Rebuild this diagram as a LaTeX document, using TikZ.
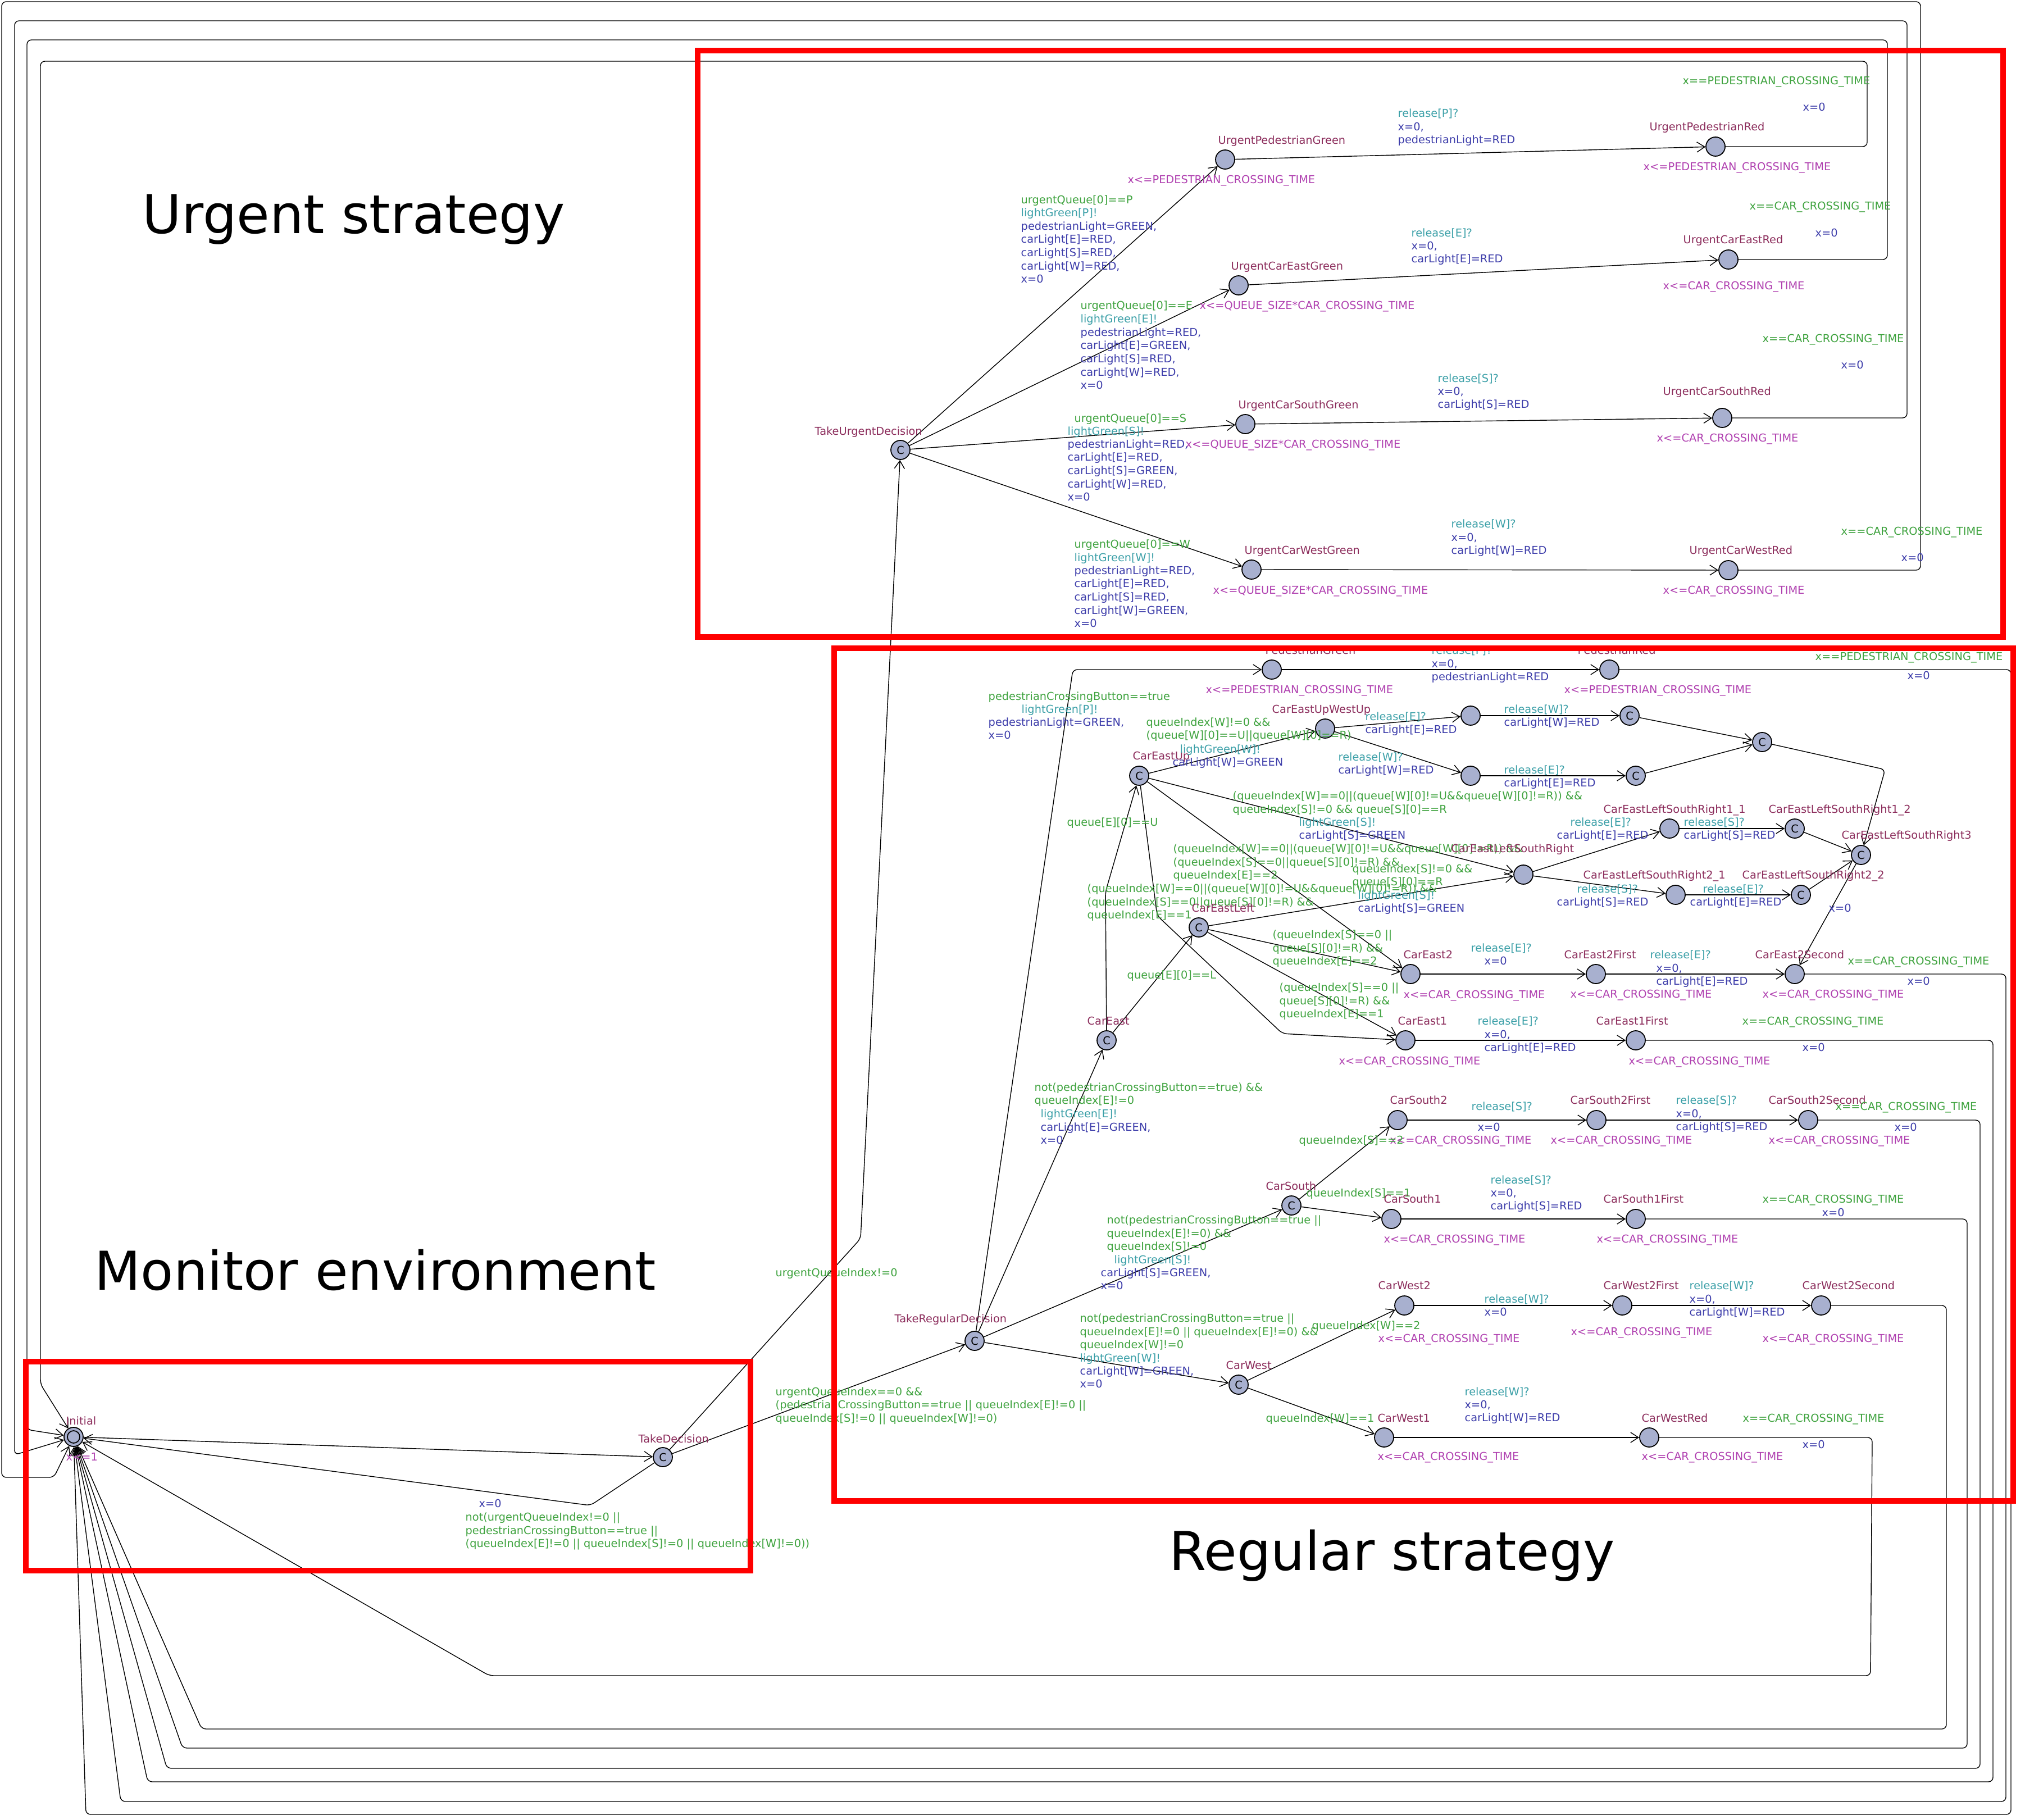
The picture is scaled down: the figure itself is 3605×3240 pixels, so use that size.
\documentclass[tikz,border=0pt]{standalone}
\usepackage{fontspec}
\setmainfont{DejaVu Sans}
\usetikzlibrary{arrows.meta}
\definecolor{locfill}{HTML}{A8B0CF}
\definecolor{namecol}{HTML}{8C2D5C}
\definecolor{grdcol}{HTML}{3FA33F}
\definecolor{syncol}{HTML}{3CA0A8}
\definecolor{updcol}{HTML}{3D3DAA}
\definecolor{invcol}{HTML}{B040B0}
\newcommand{\edgefont}{\fontsize{5.5}{6.7}\selectfont}
\newcommand{\titlefont}{\fontsize{27.1}{32}\selectfont}
\tikzset{
  loc/.style={circle, draw, line width=0.5pt, fill=locfill, minimum size=0.34cm, inner sep=0pt, font=\edgefont},
  edge/.style={draw, line width=0.4pt, -{Straight Barb[length=1.4mm,width=1.8mm]}, rounded corners=0.08cm},
  txt/.style={anchor=north west, yshift=0.08cm, inner sep=0pt, align=left, font=\edgefont},
  locname/.style={txt, text=namecol},
  guard/.style={txt, text=grdcol},
  sync/.style={txt, text=syncol},
  updt/.style={txt, text=updcol},
  invar/.style={txt, text=invcol},
  region/.style={draw=red, line width=0.1cm},
  title/.style={anchor=base west, inner sep=0pt, font=\titlefont}
}

\begin{document}
\begin{tikzpicture}[x=0.01cm, y=-0.01cm]
\path[use as bounding box, fill=white] (0,0) rectangle (3605,3240);

% monitor
\node[loc] (Initial) at (131,2558) {};
\draw[line width=0.5pt] (Initial.center) circle[radius=0.11cm];
\node[loc] (TD) at (1180,2594) {C};
\node[loc] (TUD) at (1603,801) {C};
\node[loc] (TRD) at (1735,2387) {C};

% urgent strategy
\node[loc] (UPG) at (2181,284) {};
\node[loc] (UPR) at (3054,261) {};
\node[loc] (UCEG) at (2205,508) {};
\node[loc] (UCER) at (3077,462) {};
\node[loc] (UCSG) at (2217,755) {};
\node[loc] (UCSR) at (3066,744) {};
\node[loc] (UCWG) at (2228,1014) {};
\node[loc] (UCWR) at (3077,1015) {};

% regular strategy
\node[loc] (PG) at (2264,1192) {};
\node[loc] (PR) at (2865,1192) {};
\node[loc] (CEU) at (2028,1381) {C};
\node[loc] (CEUWU) at (2359,1297) {};
\node[loc] (CEUWUa) at (2618,1274) {};
\node[loc] (CEUWUb) at (2618,1381) {};
\node[loc] (CEUWUc) at (2901,1274) {C};
\node[loc] (CEUWUd) at (2912,1381) {C};
\node[loc] (CEUWUe) at (3137,1321) {C};
\node[loc] (CELSR) at (2712,1557) {};
\node[loc] (CELSR11) at (2972,1475) {};
\node[loc] (CELSR12) at (3195,1475) {C};
\node[loc] (CELSR3) at (3313,1522) {C};
\node[loc] (CELSR21) at (2983,1593) {};
\node[loc] (CELSR22) at (3206,1593) {C};
\node[loc] (CEL) at (2134,1651) {C};
\node[loc] (CE) at (1970,1852) {C};
\node[loc] (CE2) at (2511,1734) {};
\node[loc] (CE2F) at (2841,1734) {};
\node[loc] (CE2S) at (3195,1734) {};
\node[loc] (CE1) at (2502,1852) {};
\node[loc] (CE1F) at (2912,1852) {};
\node[loc] (CS) at (2299,2146) {C};
\node[loc] (CS2) at (2488,1994) {};
\node[loc] (CS2F) at (2842,1994) {};
\node[loc] (CS2S) at (3219,1994) {};
\node[loc] (CS1) at (2477,2170) {};
\node[loc] (CS1F) at (2912,2170) {};
\node[loc] (CW) at (2205,2465) {C};
\node[loc] (CW2) at (2500,2324) {};
\node[loc] (CW2F) at (2888,2324) {};
\node[loc] (CW2S) at (3242,2324) {};
\node[loc] (CW1) at (2464,2559) {};
\node[loc] (CWR) at (2936,2559) {};

% edges: monitor
\draw[edge] (Initial) -- (TD);
\draw[edge] (TD) -- (1051,2680) -- (Initial);
\draw[edge] (TD) -- (1532,2205) -- (TUD);
\draw[edge] (TD) -- (TRD);

% edges: urgent
\draw[edge] (TUD) -- (UPG);
\draw[edge] (TUD) -- (UCEG);
\draw[edge] (TUD) -- (UCSG);
\draw[edge] (TUD) -- (UCWG);
\draw[edge] (UPG) -- (UPR);
\draw[edge] (UCEG) -- (UCER);
\draw[edge] (UCSG) -- (UCSR);
\draw[edge] (UCWG) -- (UCWR);
\draw[edge] (UPR) -- (3324,261) -- (3324,109) -- (72,109) -- (72,2464) -- (Initial);
\draw[edge] (UCER) -- (3360,462) -- (3360,71) -- (48,71) -- (48,2545) -- (Initial);
\draw[edge] (UCSR) -- (3395,744) -- (3395,37) -- (26,37) -- (26,2590) -- (Initial);
\draw[edge] (UCWR) -- (3419,1015) -- (3419,3) -- (3,3) -- (3,2630) -- (96,2630) -- (Initial);

% edges: regular
\draw[edge] (TRD) -- (1910,1192) -- (PG);
\draw[edge] (PG) -- (PR);
\draw[edge] (PR) -- (3580,1192) -- (3580,3230) -- (153,3230) -- (Initial);
\draw[edge] (TRD) -- (CE);
\draw[edge] (TRD) -- (CS);
\draw[edge] (TRD) -- (CW);
\draw[edge] (CE) -- (1968,1588) -- (CEU);
\draw[edge] (CE) -- (CEL);
\draw[edge] (CEU) -- (CEUWU);
\draw[edge] (CEU) -- (CELSR);
\draw[edge] (CEU) -- (CE2);
\draw[edge] (CEU) -- (2060,1630) -- (2283,1840) -- (CE1);
\draw[edge] (CEL) -- (CELSR);
\draw[edge] (CEL) -- (CE2);
\draw[edge] (CEL) -- (CE1);
\draw[edge] (CEUWU) -- (CEUWUa);
\draw[edge] (CEUWU) -- (CEUWUb);
\draw[edge] (CEUWUa) -- (CEUWUc);
\draw[edge] (CEUWUb) -- (CEUWUd);
\draw[edge] (CEUWUc) -- (CEUWUe);
\draw[edge] (CEUWUd) -- (CEUWUe);
\draw[edge] (CEUWUe) -- (3356,1370) -- (CELSR3);
\draw[edge] (CELSR) -- (CELSR11);
\draw[edge] (CELSR11) -- (CELSR12);
\draw[edge] (CELSR12) -- (CELSR3);
\draw[edge] (CELSR) -- (CELSR21);
\draw[edge] (CELSR21) -- (CELSR22);
\draw[edge] (CELSR22) -- (CELSR3);
\draw[edge] (CELSR3) -- (CE2S);
\draw[edge] (CE2) -- (CE2F);
\draw[edge] (CE2F) -- (CE2S);
\draw[edge] (CE2S) -- (3571,1734) -- (3571,3207) -- (215,3207) -- (Initial);
\draw[edge] (CE1) -- (CE1F);
\draw[edge] (CE1F) -- (3548,1852) -- (3548,3172) -- (263,3172) -- (Initial);
\draw[edge] (CS) -- (CS2);
\draw[edge] (CS) -- (CS1);
\draw[edge] (CS2) -- (CS2F);
\draw[edge] (CS2F) -- (CS2S);
\draw[edge] (CS2S) -- (3525,1994) -- (3525,3148) -- (297,3148) -- (Initial);
\draw[edge] (CS1) -- (CS1F);
\draw[edge] (CS1F) -- (3502,2170) -- (3502,3112) -- (325,3112) -- (Initial);
\draw[edge] (CW) -- (CW2);
\draw[edge] (CW) -- (CW1);
\draw[edge] (CW2) -- (CW2F);
\draw[edge] (CW2F) -- (CW2S);
\draw[edge] (CW2S) -- (3465,2324) -- (3465,3078) -- (359,3078) -- (Initial);
\draw[edge] (CW1) -- (CWR);
\draw[edge] (CWR) -- (3333,2559) -- (3330,2983) -- (871,2983) -- (Initial);

% labels: monitor
\node[locname] (nInit) at (117,2529) {Initial};
\node[invar] (iInit) at (117,2594) {x<=1};
\node[locname] (nTD) at (1136,2561) {TakeDecision};
\node[updt] (uTDI) at (852,2676) {x=0};
\node[guard] (gTDI) at (828,2700) {not(urgentQueueIndex!=0 ||\\pedestrianCrossingButton==true ||\\(queueIndex[E]!=0 || queueIndex[S]!=0 || queueIndex[W]!=0))};
\node[guard] (gTDU) at (1380,2265) {urgentQueueIndex!=0};
\node[guard] (gTDR) at (1380,2477) {urgentQueueIndex==0 \&\&\\(pedestrianCrossingButton==true || queueIndex[E]!=0 ||\\queueIndex[S]!=0 || queueIndex[W]!=0)};

% labels: urgent
\node[locname] (nTUD) at (1450,767) {TakeUrgentDecision};
\node[locname] (nUPG) at (2168,249) {UrgentPedestrianGreen};
\node[invar] (iUPG) at (2007,319) {x<=PEDESTRIAN\_CROSSING\_TIME};
\node[guard] (gTUP) at (1817,355) {urgentQueue[0]==P};
\node[sync] (sTUP) at (1817,378) {lightGreen[P]!};
\node[updt] (uTUP) at (1817,402) {pedestrianLight=GREEN,\\carLight[E]=RED,\\carLight[S]=RED,\\carLight[W]=RED,\\x=0};
\node[locname] (nUCEG) at (2191,473) {UrgentCarEastGreen};
\node[invar] (iUCEG) at (2135,543) {x<=QUEUE\_SIZE*CAR\_CROSSING\_TIME};
\node[guard] (gTUE) at (1923,543) {urgentQueue[0]==E};
\node[sync] (sTUE) at (1923,567) {lightGreen[E]!};
\node[updt] (uTUE) at (1923,591) {pedestrianLight=RED,\\carLight[E]=GREEN,\\carLight[S]=RED,\\carLight[W]=RED,\\x=0};
\node[locname] (nUCSG) at (2204,720) {UrgentCarSouthGreen};
\node[invar] (iUCSG) at (2110,790) {x<=QUEUE\_SIZE*CAR\_CROSSING\_TIME};
\node[guard] (gTUS) at (1912,744) {urgentQueue[0]==S};
\node[sync] (sTUS) at (1900,767) {lightGreen[S]!};
\node[updt] (uTUS) at (1900,790) {pedestrianLight=RED,\\carLight[E]=RED,\\carLight[S]=GREEN,\\carLight[W]=RED,\\x=0};
\node[locname] (nUCWG) at (2215,979) {UrgentCarWestGreen};
\node[invar] (iUCWG) at (2159,1050) {x<=QUEUE\_SIZE*CAR\_CROSSING\_TIME};
\node[guard] (gTUW) at (1912,968) {urgentQueue[0]==W};
\node[sync] (sTUW) at (1912,992) {lightGreen[W]!};
\node[updt] (uTUW) at (1912,1015) {pedestrianLight=RED,\\carLight[E]=RED,\\carLight[S]=RED,\\carLight[W]=GREEN,\\x=0};
\node[locname] (nUPR) at (2936,225) {UrgentPedestrianRed};
\node[invar] (iUPR) at (2925,296) {x<=PEDESTRIAN\_CROSSING\_TIME};
\node[sync] (sUPG) at (2488,201) {release[P]?};
\node[updt] (uUPG) at (2488,225) {x=0,\\pedestrianLight=RED};
\node[guard] (gUPR) at (2995,143) {x==PEDESTRIAN\_CROSSING\_TIME};
\node[updt] (uUPR) at (3209,190) {x=0};
\node[locname] (nUCER) at (2996,426) {UrgentCarEastRed};
\node[invar] (iUCER) at (2960,508) {x<=CAR\_CROSSING\_TIME};
\node[sync] (sUCEG) at (2512,414) {release[E]?};
\node[updt] (uUCEG) at (2512,437) {x=0,\\carLight[E]=RED};
\node[guard] (gUCER) at (3114,366) {x==CAR\_CROSSING\_TIME};
\node[updt] (uUCER) at (3231,414) {x=0};
\node[locname] (nUCSR) at (2960,696) {UrgentCarSouthRed};
\node[invar] (iUCSR) at (2949,779) {x<=CAR\_CROSSING\_TIME};
\node[sync] (sUCSG) at (2559,673) {release[S]?};
\node[updt] (uUCSG) at (2559,696) {x=0,\\carLight[S]=RED};
\node[guard] (gUCSR) at (3137,602) {x==CAR\_CROSSING\_TIME};
\node[updt] (uUCSR) at (3277,649) {x=0};
\node[locname] (nUCWR) at (3007,979) {UrgentCarWestRed};
\node[invar] (iUCWR) at (2960,1050) {x<=CAR\_CROSSING\_TIME};
\node[sync] (sUCWG) at (2583,932) {release[W]?};
\node[updt] (uUCWG) at (2583,956) {x=0,\\carLight[W]=RED};
\node[guard] (gUCWR) at (3277,945) {x==CAR\_CROSSING\_TIME};
\node[updt] (uUCWR) at (3384,992) {x=0};

% labels: regular, pedestrian
\node[locname] (nTRD) at (1592,2347) {TakeRegularDecision};
\node[locname] (nPG) at (2252,1157) {PedestrianGreen};
\node[invar] (iPG) at (2146,1227) {x<=PEDESTRIAN\_CROSSING\_TIME};
\node[locname] (nPR) at (2808,1157) {PedestrianRed};
\node[invar] (iPR) at (2784,1227) {x<=PEDESTRIAN\_CROSSING\_TIME};
\node[sync] (sPG) at (2548,1157) {release[P]?};
\node[updt] (uPG) at (2548,1181) {x=0,\\pedestrianLight=RED};
\node[guard] (gPR) at (3231,1168) {x==PEDESTRIAN\_CROSSING\_TIME};
\node[updt] (uPR) at (3395,1202) {x=0};
\node[guard] (gTRP) at (1759,1239) {pedestrianCrossingButton==true};
\node[sync] (sTRP) at (1818,1262) {lightGreen[P]!};
\node[updt] (uTRP) at (1759,1285) {pedestrianLight=GREEN,\\x=0};

% labels: regular, east
\node[locname] (nCEU) at (2016,1345) {CarEastUp};
\node[locname] (nCEUWU) at (2264,1262) {CarEastUpWestUp};
\node[guard] (gCEUW) at (2040,1285) {queueIndex[W]!=0 \&\&\\(queue[W][0]==U||queue[W][0]==R)};
\node[sync] (sCEUW) at (2100,1333) {lightGreen[W]!};
\node[updt] (uCEUW) at (2087,1356) {carLight[W]=GREEN};
\node[sync] (sCEUWa) at (2430,1275) {release[E]?};
\node[updt] (uCEUWa) at (2430,1298) {carLight[E]=RED};
\node[sync] (sCEUWb) at (2382,1347) {release[W]?};
\node[updt] (uCEUWb) at (2382,1370) {carLight[W]=RED};
\node[sync] (sCEUWc) at (2677,1262) {release[W]?};
\node[updt] (uCEUWc) at (2677,1285) {carLight[W]=RED};
\node[sync] (sCEUWd) at (2677,1370) {release[E]?};
\node[updt] (uCEUWd) at (2677,1393) {carLight[E]=RED};
\node[guard] (gCEUS) at (2194,1416) {(queueIndex[W]==0||(queue[W][0]!=U\&\&queue[W][0]!=R)) \&\&\\queueIndex[S]!=0 \&\& queue[S][0]==R};
\node[sync] (sCEUS) at (2312,1463) {lightGreen[S]!};
\node[updt] (uCEUS) at (2312,1486) {carLight[S]=GREEN};
\node[guard] (gCEU2) at (2088,1510) {(queueIndex[W]==0||(queue[W][0]!=U\&\&queue[W][0]!=R)) \&\&\\(queueIndex[S]==0||queue[S][0]!=R) \&\&\\queueIndex[E]==2};
\node[guard] (gCEU1) at (1935,1581) {(queueIndex[W]==0||(queue[W][0]!=U\&\&queue[W][0]!=R)) \&\&\\(queueIndex[S]==0||queue[S][0]!=R) \&\&\\queueIndex[E]==1};
\node[guard] (gCEUp) at (1899,1463) {queue[E][0]==U};
\node[guard] (gCELf) at (2006,1735) {queue[E][0]==L};
\node[locname] (nCEL) at (2121,1616) {CarEastLeft};
\node[locname] (nCE) at (1935,1817) {CarEast};
\node[guard] (gCELS) at (2407,1546) {queueIndex[S]!=0 \&\&\\queue[S][0]==R};
\node[sync] (sCELS) at (2417,1593) {lightGreen[S]!};
\node[updt] (uCELS) at (2417,1616) {carLight[S]=GREEN};
\node[guard] (gCEL2) at (2265,1663) {(queueIndex[S]==0 ||\\queue[S][0]!=R) \&\&\\queueIndex[E]==2};
\node[guard] (gCEL1) at (2277,1757) {(queueIndex[S]==0 ||\\queue[S][0]!=R) \&\&\\queueIndex[E]==1};
\node[locname] (nCELSR) at (2583,1510) {CarEastLeftSouthRight};
\node[locname] (nCELSR11) at (2854,1440) {CarEastLeftSouthRight1\_1};
\node[locname] (nCELSR12) at (3148,1440) {CarEastLeftSouthRight1\_2};
\node[locname] (nCELSR3) at (3278,1486) {CarEastLeftSouthRight3};
\node[locname] (nCELSR21) at (2818,1557) {CarEastLeftSouthRight2\_1};
\node[locname] (nCELSR22) at (3101,1557) {CarEastLeftSouthRight2\_2};
\node[sync] (sCELSR11) at (2795,1463) {release[E]?};
\node[updt] (uCELSR11) at (2771,1486) {carLight[E]=RED};
\node[sync] (sCELSR12) at (2997,1463) {release[S]?};
\node[updt] (uCELSR12) at (2997,1486) {carLight[S]=RED};
\node[sync] (sCELSR21) at (2807,1582) {release[S]?};
\node[updt] (uCELSR21) at (2771,1605) {carLight[S]=RED};
\node[sync] (sCELSR22) at (3031,1582) {release[E]?};
\node[updt] (uCELSR22) at (3008,1605) {carLight[E]=RED};
\node[updt] (uCELSR3) at (3255,1616) {x=0};
\node[locname] (nCE2) at (2498,1699) {CarEast2};
\node[invar] (iCE2) at (2498,1770) {x<=CAR\_CROSSING\_TIME};
\node[sync] (sCE2) at (2618,1687) {release[E]?};
\node[updt] (uCE2) at (2642,1710) {x=0};
\node[locname] (nCE2F) at (2784,1699) {CarEast2First};
\node[invar] (iCE2F) at (2795,1769) {x<=CAR\_CROSSING\_TIME};
\node[sync] (sCE2F) at (2937,1699) {release[E]?};
\node[updt] (uCE2F) at (2948,1723) {x=0,\\carLight[E]=RED};
\node[locname] (nCE2S) at (3124,1699) {CarEast2Second};
\node[invar] (iCE2S) at (3137,1769) {x<=CAR\_CROSSING\_TIME};
\node[guard] (gCE2S) at (3289,1710) {x==CAR\_CROSSING\_TIME};
\node[updt] (uCE2S) at (3395,1746) {x=0};
\node[locname] (nCE1) at (2488,1817) {CarEast1};
\node[invar] (iCE1) at (2383,1888) {x<=CAR\_CROSSING\_TIME};
\node[sync] (sCE1) at (2630,1817) {release[E]?};
\node[updt] (uCE1) at (2642,1841) {x=0,\\carLight[E]=RED};
\node[locname] (nCE1F) at (2841,1817) {CarEast1First};
\node[invar] (iCE1F) at (2899,1888) {x<=CAR\_CROSSING\_TIME};
\node[guard] (gCE1F) at (3101,1817) {x==CAR\_CROSSING\_TIME};
\node[updt] (uCE1F) at (3208,1864) {x=0};
\node[guard] (gTRE) at (1841,1935) {not(pedestrianCrossingButton==true) \&\&\\queueIndex[E]!=0};
\node[sync] (sTRE) at (1852,1982) {lightGreen[E]!};
\node[updt] (uTRE) at (1852,2006) {carLight[E]=GREEN,\\x=0};

% labels: regular, south
\node[locname] (nCS2) at (2474,1958) {CarSouth2};
\node[invar] (iCS2) at (2474,2029) {x<=CAR\_CROSSING\_TIME};
\node[guard] (gCS2) at (2312,2029) {queueIndex[S]==2};
\node[sync] (sCS2) at (2619,1969) {release[S]?};
\node[updt] (uCS2) at (2630,2006) {x=0};
\node[locname] (nCS2F) at (2795,1958) {CarSouth2First};
\node[invar] (iCS2F) at (2760,2029) {x<=CAR\_CROSSING\_TIME};
\node[sync] (sCS2F) at (2983,1958) {release[S]?};
\node[updt] (uCS2F) at (2983,1982) {x=0,\\carLight[S]=RED};
\node[locname] (nCS2S) at (3148,1958) {CarSouth2Second};
\node[invar] (iCS2S) at (3148,2029) {x<=CAR\_CROSSING\_TIME};
\node[guard] (gCS2S) at (3267,1969) {x==CAR\_CROSSING\_TIME};
\node[updt] (uCS2S) at (3372,2006) {x=0};
\node[locname] (nCS) at (2253,2111) {CarSouth};
\node[guard] (gCS1) at (2325,2123) {queueIndex[S]==1};
\node[locname] (nCS1) at (2463,2134) {CarSouth1};
\node[invar] (iCS1) at (2463,2205) {x<=CAR\_CROSSING\_TIME};
\node[sync] (sCS1) at (2653,2100) {release[S]?};
\node[updt] (uCS1) at (2653,2123) {x=0,\\carLight[S]=RED};
\node[locname] (nCS1F) at (2854,2134) {CarSouth1First};
\node[invar] (iCS1F) at (2842,2205) {x<=CAR\_CROSSING\_TIME};
\node[guard] (gCS1F) at (3137,2134) {x==CAR\_CROSSING\_TIME};
\node[updt] (uCS1F) at (3243,2158) {x=0};
\node[guard] (gTRS) at (1970,2171) {not(pedestrianCrossingButton==true ||\\queueIndex[E]!=0) \&\&\\queueIndex[S]!=0};
\node[sync] (sTRS) at (1983,2242) {lightGreen[S]!};
\node[updt] (uTRS) at (1959,2265) {carLight[S]=GREEN,\\x=0};

% labels: regular, west
\node[locname] (nCW2) at (2453,2288) {CarWest2};
\node[invar] (iCW2) at (2453,2382) {x<=CAR\_CROSSING\_TIME};
\node[guard] (gCW2) at (2335,2359) {queueIndex[W]==2};
\node[sync] (sCW2) at (2642,2312) {release[W]?};
\node[updt] (uCW2) at (2642,2335) {x=0};
\node[locname] (nCW2F) at (2854,2288) {CarWest2First};
\node[invar] (iCW2F) at (2796,2370) {x<=CAR\_CROSSING\_TIME};
\node[sync] (sCW2F) at (3007,2288) {release[W]?};
\node[updt] (uCW2F) at (3007,2312) {x=0,\\carLight[W]=RED};
\node[locname] (nCW2S) at (3208,2288) {CarWest2Second};
\node[invar] (iCW2S) at (3137,2382) {x<=CAR\_CROSSING\_TIME};
\node[guard] (gTRW) at (1922,2346) {not(pedestrianCrossingButton==true ||\\queueIndex[E]!=0 || queueIndex[E]!=0) \&\&\\queueIndex[W]!=0};
\node[sync] (sTRW) at (1922,2417) {lightGreen[W]!};
\node[updt] (uTRW) at (1922,2440) {carLight[W]=GREEN,\\x=0};
\node[locname] (nCW) at (2182,2430) {CarWest};
\node[guard] (gCW1) at (2253,2524) {queueIndex[W]==1};
\node[locname] (nCW1) at (2452,2524) {CarWest1};
\node[invar] (iCW1) at (2452,2592) {x<=CAR\_CROSSING\_TIME};
\node[sync] (sCW1) at (2607,2477) {release[W]?};
\node[updt] (uCW1) at (2607,2500) {x=0,\\carLight[W]=RED};
\node[locname] (nCWR) at (2922,2524) {CarWestRed};
\node[invar] (iCWR) at (2922,2592) {x<=CAR\_CROSSING\_TIME};
\node[guard] (gCWR) at (3102,2524) {x==CAR\_CROSSING\_TIME};
\node[updt] (uCWR) at (3208,2571) {x=0};

% titles and regions
\node[title] (tUrg) at (253,416) {Urgent strategy};
\node[title] (tMon) at (168,2296) {Monitor environment};
\node[title] (tReg) at (2081,2795) {Regular strategy};
\draw[region] (1242,90) rectangle (3566,1134);
\draw[region] (1485,1154) rectangle (3584,2672);
\draw[region] (46,2424) rectangle (1336,2796);
\end{tikzpicture}
\end{document}
